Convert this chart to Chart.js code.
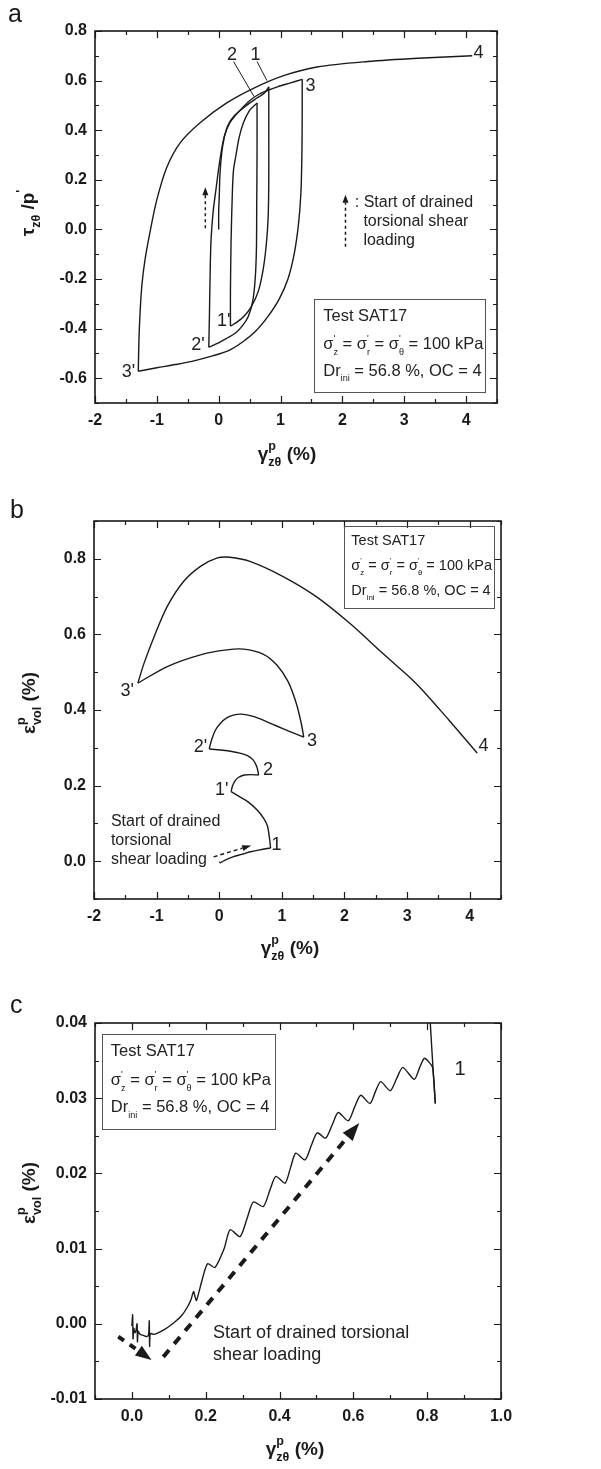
<!DOCTYPE html>
<html><head><meta charset="utf-8">
<script src="https://cdn.jsdelivr.net/npm/chart.js@4/dist/chart.umd.min.js"></script>
<style>
html,body{margin:0;padding:0;background:#fff;}
body{width:601px;height:1469px;position:relative;overflow:hidden;}
canvas{position:absolute;left:0;}
</style></head>
<body>
<canvas id="ca" width="601" height="490" style="top:0px"></canvas>
<canvas id="cb" width="601" height="490" style="top:490px"></canvas>
<canvas id="cc" width="601" height="489" style="top:980px"></canvas>
<script>
// ---------------- DATA ----------------
// Panel a: tau/p' vs gamma (%), branches
const A_LOAD0_X = [0.00,0.00,0.01,0.02,0.05,0.09,0.15,0.26,0.45,0.62,0.74,0.81];
const A_LOAD0_Y = [0.00,0.07,0.14,0.22,0.31,0.37,0.42,0.46,0.50,0.53,0.55,0.575];
const A_UNL1_X = [0.81,0.81,0.81,0.80,0.77,0.72,0.64,0.53,0.41,0.29,0.19];
const A_UNL1_Y = [0.575,0.40,0.20,0.05,-0.06,-0.16,-0.25,-0.31,-0.35,-0.375,-0.39];
const A_REL1_X = [0.19,0.19,0.20,0.22,0.24,0.28,0.33,0.40,0.50,0.62];
const A_REL1_Y = [-0.39,-0.25,-0.05,0.14,0.24,0.30,0.37,0.43,0.48,0.51];
const A_UNL2_X = [0.62,0.62,0.615,0.61,0.59,0.55,0.48,0.38,0.26,0.12,-0.02,-0.16];
const A_UNL2_Y = [0.51,0.30,0.10,-0.08,-0.20,-0.29,-0.35,-0.39,-0.42,-0.44,-0.46,-0.475];
const A_REL2_X = [-0.16,-0.15,-0.14,-0.125,-0.09,-0.05,0.02,0.09,0.18,0.26,0.40,0.50,0.65,0.79,0.95,1.15,1.35];
const A_REL2_Y = [-0.475,-0.35,-0.20,-0.05,0.07,0.15,0.28,0.375,0.43,0.457,0.495,0.519,0.545,0.56,0.575,0.59,0.605];
const A_UNL3_X = [1.35,1.35,1.345,1.33,1.29,1.22,1.12,0.98,0.80,0.60,0.38,0.15,-0.10,-0.40,-0.70,-1.00,-1.30];
const A_UNL3_Y = [0.605,0.45,0.30,0.15,0.02,-0.10,-0.20,-0.28,-0.35,-0.41,-0.455,-0.49,-0.51,-0.53,-0.545,-0.558,-0.572];
const A_REL3_X = [-1.30,-1.29,-1.27,-1.24,-1.19,-1.11,-1.00,-0.84,-0.62,-0.30,0.13,0.57,1.05,1.59,2.41,3.22,4.10];
const A_REL3_Y = [-0.572,-0.45,-0.33,-0.22,-0.12,-0.01,0.12,0.25,0.35,0.43,0.51,0.57,0.62,0.655,0.677,0.69,0.70];
const A_TICKS_X = [-2,-1,0,1,2,3,4];
const A_LABELS_X = ['-2','-1','0','1','2','3','4'];
const A_TICKS_Y = [-0.6,-0.4,-0.2,0.0,0.2,0.4,0.6,0.8];
const A_LABELS_Y = ['-0.6','-0.4','-0.2','0.0','0.2','0.4','0.6','0.8'];

// Panel b: eps_vol vs gamma (%), branches
const B_LOAD0_X = [0.00,0.02,0.05,0.12,0.23,0.36,0.50,0.65,0.82];
const B_LOAD0_Y = [-0.002,-0.004,-0.001,0.005,0.012,0.018,0.025,0.030,0.035];
const B_UNL1_X = [0.82,0.80,0.77,0.71,0.61,0.46,0.31,0.19];
const B_UNL1_Y = [0.035,0.064,0.093,0.113,0.135,0.157,0.172,0.184];
const B_REL1_X = [0.19,0.21,0.25,0.31,0.40,0.50,0.63];
const B_REL1_Y = [0.184,0.198,0.212,0.222,0.228,0.229,0.228];
const B_UNL2_X = [0.63,0.60,0.54,0.45,0.33,0.18,0.02,-0.16];
const B_UNL2_Y = [0.228,0.250,0.268,0.279,0.286,0.291,0.294,0.297];
const B_REL2_X = [-0.16,-0.12,-0.06,0.02,0.12,0.24,0.36,0.54,0.72,0.90,1.13,1.35];
const B_REL2_Y = [0.297,0.322,0.347,0.365,0.379,0.387,0.389,0.383,0.372,0.359,0.343,0.328];
const B_UNL3_X = [1.35,1.31,1.23,1.10,0.92,0.70,0.39,0.12,-0.30,-0.83,-1.30];
const B_UNL3_Y = [0.328,0.365,0.418,0.475,0.519,0.548,0.561,0.559,0.546,0.515,0.471];
const B_REL3_X = [-1.30,-1.20,-1.04,-0.83,-0.57,-0.30,-0.04,0.17,0.49,1.02,1.55,2.08,2.61,3.14,3.67,4.12];
const B_REL3_Y = [0.471,0.524,0.594,0.674,0.740,0.780,0.802,0.804,0.793,0.753,0.700,0.630,0.550,0.471,0.373,0.286];
const B_TICKS_X = [-2,-1,0,1,2,3,4];
const B_LABELS_X = ['-2','-1','0','1','2','3','4'];
const B_TICKS_Y = [0.0,0.2,0.4,0.6,0.8];
const B_LABELS_Y = ['0.0','0.2','0.4','0.6','0.8'];

// Panel c: zoom on start of loading up to point 1
const C_LOAD_X = [0.000,0.002,0.003,0.005,0.008,0.011,0.014,0.015,0.017,0.022,0.028,0.034,0.040,0.045,0.047,0.048,0.050,0.060,0.075,0.090,0.105,0.120,0.135,0.150,0.160,0.167,0.171,0.175,
  0.190,0.205,0.225,0.250,0.266,0.293,0.312,0.329,0.356,0.374,0.390,0.415,0.430,0.444,0.469,0.486,0.502,0.525,0.543,0.559,0.586,0.604,0.620,0.645,0.660,0.674,0.700,0.718,0.734,0.765,0.779,0.792,0.805,0.815,0.822];
const C_LOAD_Y = [-0.0003,0.0012,-0.0020,-0.0006,-0.0012,-0.0009,0.0000,-0.0024,-0.0010,-0.0014,-0.0015,-0.0016,-0.0017,-0.0015,0.0004,-0.0030,-0.0013,-0.0014,-0.0011,-0.0007,-0.0002,0.0004,0.0011,0.0022,0.0032,0.0043,0.0036,0.0031,
  0.0058,0.0080,0.0075,0.0100,0.0125,0.0116,0.0140,0.0162,0.0156,0.0178,0.0196,0.0187,0.0208,0.0227,0.0218,0.0237,0.0254,0.0247,0.0265,0.0281,0.0270,0.0289,0.0304,0.0293,0.0309,0.0322,0.0310,0.0327,0.0341,0.0325,0.0340,0.0353,0.0348,0.0340,0.0293];
const C_UNL_X = [0.822,0.817,0.812,0.806];
const C_UNL_Y = [0.0293,0.0330,0.0370,0.0420];
const C_TICKS_X = [0.0,0.2,0.4,0.6,0.8,1.0];
const C_LABELS_X = ['0.0','0.2','0.4','0.6','0.8','1.0'];
const C_TICKS_Y = [-0.01,0.00,0.01,0.02,0.03,0.04];
const C_LABELS_Y = ['-0.01','0.00','0.01','0.02','0.03','0.04'];

// ---------------- RENDERING ----------------
const FONT = '"Liberation Sans", Arial, Helvetica, sans-serif';
const INK = '#1a1a1a';
function fnt(size,bold){return (bold?'bold ':'')+size+'px '+FONT;}
function measureRich(ctx,parts,size,bold,k){
  let w=0;
  for(const p of parts){
    if(p[1]==='sub'||p[1]==='sup'){ctx.font=fnt(size*k,bold);w+=ctx.measureText(p[0]).width;}
    else if(p[1]==='stack'){ctx.font=fnt(size*k,bold);w+=Math.max(ctx.measureText(p[0]).width,ctx.measureText(p[2]).width);}
    else {ctx.font=fnt(size,bold);w+=ctx.measureText(p[0]).width;}
  }
  return w;
}
function drawRich(ctx,parts,x,y,size,bold,align,k){
  k=k||0.6;
  const w=measureRich(ctx,parts,size,bold,k);
  let cx=align==='center'?x-w/2:(align==='right'?x-w:x);
  const base=y+size*0.36;
  ctx.textAlign='left';ctx.textBaseline='alphabetic';
  for(const p of parts){
    if(p[1]==='sub'){ctx.font=fnt(size*k,bold);ctx.fillText(p[0],cx,base+size*0.32);cx+=ctx.measureText(p[0]).width;}
    else if(p[1]==='sup'){ctx.font=fnt(size*k,bold);ctx.fillText(p[0],cx,base-size*0.45);cx+=ctx.measureText(p[0]).width;}
    else if(p[1]==='stack'){ctx.font=fnt(size*k,bold);ctx.fillText(p[0],cx,base-size*0.5);ctx.fillText(p[2],cx,base+size*0.32);
      cx+=Math.max(ctx.measureText(p[0]).width,ctx.measureText(p[2]).width);}
    else {ctx.font=fnt(size,bold);ctx.fillText(p[0],cx,base);cx+=ctx.measureText(p[0]).width;}
  }
}
function arrow(ctx,x1,y1,x2,y2,lw,dash,hl,hw){
  const dx=x2-x1,dy=y2-y1,L=Math.hypot(dx,dy),ux=dx/L,uy=dy/L;
  const bx=x2-ux*hl,by=y2-uy*hl;
  ctx.save();ctx.lineWidth=lw;ctx.setLineDash(dash);ctx.beginPath();ctx.moveTo(x1,y1);ctx.lineTo(bx,by);ctx.stroke();ctx.restore();
  ctx.beginPath();ctx.moveTo(x2,y2);ctx.lineTo(bx-uy*hw/2,by+ux*hw/2);ctx.lineTo(bx+uy*hw/2,by-ux*hw/2);ctx.closePath();ctx.fill();
}
const deco={id:'deco',afterDraw(chart){
  const o=chart.options.plugins.deco;const ctx=chart.ctx;const ca=chart.chartArea;
  const sx=chart.scales.x,sy=chart.scales.y;const px=v=>sx.getPixelForValue(v),py=v=>sy.getPixelForValue(v);
  ctx.save();ctx.strokeStyle=INK;ctx.fillStyle=INK;
  ctx.lineWidth=1.2;ctx.beginPath();
  const tk=(vals,len,isX)=>{for(const v of vals){
    if(isX){const p=Math.round(px(v))+0.5;ctx.moveTo(p,ca.bottom);ctx.lineTo(p,ca.bottom-len);ctx.moveTo(p,ca.top);ctx.lineTo(p,ca.top+len);}
    else{const p=Math.round(py(v))+0.5;ctx.moveTo(ca.left,p);ctx.lineTo(ca.left+len,p);ctx.moveTo(ca.right,p);ctx.lineTo(ca.right-len,p);}
  }};
  const minor=(min,max,step)=>{const r=[];const n=Math.round((max-min)/step);for(let i=0;i<=n;i++)r.push(min+i*step);return r;};
  tk(minor(o.minorX[0],o.minorX[1],o.minorX[2]),4,true);
  tk(minor(o.minorY[0],o.minorY[1],o.minorY[2]),4,false);
  tk(o.majorX,7,true);tk(o.majorY,7,false);
  ctx.stroke();
  ctx.lineWidth=1.6;ctx.strokeRect(ca.left,ca.top,ca.right-ca.left,ca.bottom-ca.top);
  if(o.box){const b=o.box;ctx.lineWidth=1;ctx.strokeStyle='#555';
    ctx.strokeRect(Math.round(px(b.x1))+0.5,Math.round(py(b.y1))+0.5,Math.round(px(b.x2)-px(b.x1)),Math.round(py(b.y2)-py(b.y1)));
    ctx.strokeStyle=INK;ctx.fillStyle='#222';
    b.lines.forEach((ln,i)=>drawRich(ctx,ln,px(b.tx),py(b.ty[i]),b.size,false,'left',0.55));
    ctx.fillStyle=INK;}
  ctx.lineWidth=1;for(const l of (o.leaders||[])){ctx.beginPath();ctx.moveTo(px(l[0]),py(l[1]));ctx.lineTo(px(l[2]),py(l[3]));ctx.stroke();}
  for(const a of (o.arrows||[])){arrow(ctx,px(a.x1),py(a.y1),px(a.x2),py(a.y2),a.lw,a.dash,a.hl,a.hw);}
  ctx.fillStyle='#222';
  for(const t of (o.texts||[])){drawRich(ctx,[[t.t]],px(t.x),py(t.y),t.size,false,t.align||'center');}
  ctx.fillStyle=INK;
  drawRich(ctx,o.xTitle,o.xTitlePos[0],o.xTitlePos[1],19,true,'center',0.66);
  ctx.save();ctx.translate(o.yTitlePos[0],o.yTitlePos[1]);ctx.rotate(-Math.PI/2);drawRich(ctx,o.yTitle,0,0,19,true,'center',0.66);ctx.restore();
  ctx.font=fnt(25,false);ctx.textAlign='left';ctx.textBaseline='alphabetic';ctx.fillText(o.letter,o.letterPos[0],o.letterPos[1]);
  ctx.restore();
}};
function axis(min,max,ticks,labels,pad,fitProp,fitVal){
  return {type:'linear',min,max,
    afterBuildTicks:s=>{s.ticks=ticks.map(v=>({value:v}));},
    afterFit:s=>{s[fitProp]=fitVal;},
    grid:{display:false,drawTicks:false},border:{display:false},
    ticks:{color:INK,font:{family:FONT,size:16,weight:'bold'},padding:pad,autoSkip:false,maxRotation:0,
      callback:v=>{const i=ticks.findIndex(t=>Math.abs(t-v)<1e-9);return i>=0?labels[i]:'';}}};
}
function ds(xs,ys,t){return {data:xs.map((x,i)=>({x,y:ys[i]})),showLine:true,pointRadius:0,borderColor:INK,borderWidth:1.4,tension:t,fill:false};}
function make(id,H,area,datasets,xs,ys,deco_){
  const [L,T,R,B]=area;
  new Chart(document.getElementById(id),{type:'scatter',data:{datasets},
    options:{responsive:false,animation:false,events:[],
      layout:{padding:{left:0,top:T,right:601-R,bottom:H-B-44}},
      scales:{x:axis(xs[0],xs[1],xs[2],xs[3],8,'height',44),y:axis(ys[0],ys[1],ys[2],ys[3],8,'width',L)},
      plugins:{legend:{display:false},tooltip:{enabled:false},deco:deco_}},
    plugins:[deco]});
}
const SIG=[['σ'],["'",'stack','z'],[' = σ'],["'",'stack','r'],[' = σ'],["'",'stack','θ'],[' = 100 kPa']];
const DR=[['Dr'],['ini','sub'],[' = 56.8 %, OC = 4']];
const GAM=[['γ'],['p','stack','zθ'],[' (%)']];
const EPS=[['ε'],['p','stack','vol'],[' (%)']];

make('ca',490,[95,31,497,403],[
  ds(A_LOAD0_X,A_LOAD0_Y,0.3),ds(A_UNL1_X,A_UNL1_Y,0.3),ds(A_REL1_X,A_REL1_Y,0.3),ds(A_UNL2_X,A_UNL2_Y,0.3),
  ds(A_REL2_X,A_REL2_Y,0.3),ds(A_UNL3_X,A_UNL3_Y,0.3),ds(A_REL3_X,A_REL3_Y,0.3)],
  [-2,4.5,A_TICKS_X,A_LABELS_X],[-0.7,0.8,A_TICKS_Y,A_LABELS_Y],
  {letter:'a',letterPos:[8,22],majorX:A_TICKS_X,majorY:A_TICKS_Y,minorX:[-2,4.5,0.5],minorY:[-0.7,0.8,0.1],
   xTitle:GAM,xTitlePos:[287,453],yTitle:[['τ'],['zθ','sub'],[' /p'],["'",'sup']],yTitlePos:[27,213],
   box:{x1:1.54,x2:4.31,y1:-0.279,y2:-0.652,tx:1.69,ty:[-0.346,-0.46,-0.568],size:16.5,lines:[[['Test SAT17']],SIG,DR]},
   leaders:[[0.24,0.677,0.57,0.536],[0.62,0.677,0.78,0.60]],
   arrows:[{x1:-0.216,y1:0.005,x2:-0.216,y2:0.17,lw:1.5,dash:[3,3],hl:8,hw:6},{x1:2.05,y1:-0.07,x2:2.05,y2:0.14,lw:1.5,dash:[3,3],hl:8,hw:6}],
   texts:[{t:'1',x:0.595,y:0.711,size:18},{t:'2',x:0.216,y:0.711,size:18},{t:'3',x:1.486,y:0.583,size:18},{t:'4',x:4.2,y:0.718,size:18},
     {t:"1'",x:0.08,y:-0.364,size:18},{t:"2'",x:-0.335,y:-0.46,size:18},{t:"3'",x:-1.46,y:-0.571,size:18},
     {t:': Start of drained',x:2.2,y:0.114,size:16,align:'left'},{t:'torsional shear',x:2.34,y:0.038,size:16,align:'left'},{t:'loading',x:2.34,y:-0.04,size:16,align:'left'}]});

make('cb',490,[94,31,501,409],[
  ds(B_LOAD0_X,B_LOAD0_Y,0.3),ds(B_UNL1_X,B_UNL1_Y,0.3),ds(B_REL1_X,B_REL1_Y,0.3),ds(B_UNL2_X,B_UNL2_Y,0.3),
  ds(B_REL2_X,B_REL2_Y,0.3),ds(B_UNL3_X,B_UNL3_Y,0.3),ds(B_REL3_X,B_REL3_Y,0.3)],
  [-2,4.5,B_TICKS_X,B_LABELS_X],[-0.1,0.9,B_TICKS_Y,B_LABELS_Y],
  {letter:'b',letterPos:[10,28],majorX:B_TICKS_X,majorY:B_TICKS_Y,minorX:[-2,4.5,0.5],minorY:[-0.1,0.9,0.1],
   xTitle:GAM,xTitlePos:[290,457],yTitle:EPS,yTitlePos:[28,213],
   box:{x1:1.99,x2:4.38,y1:0.886,y2:0.668,tx:2.11,ty:[0.85,0.784,0.718],size:14.5,lines:[[['Test SAT17']],SIG,DR]},
   arrows:[{x1:-0.09,y1:0.0115,x2:0.51,y2:0.0415,lw:1.5,dash:[4,3],hl:9,hw:6}],
   texts:[{t:'1',x:0.915,y:0.047,size:18},{t:"1'",x:0.04,y:0.192,size:18},{t:'2',x:0.78,y:0.245,size:18},{t:"2'",x:-0.30,y:0.307,size:18},
     {t:'3',x:1.48,y:0.322,size:18},{t:"3'",x:-1.47,y:0.453,size:18},{t:'4',x:4.22,y:0.309,size:18},
     {t:'Start of drained',x:-1.73,y:0.109,size:16,align:'left'},{t:'torsional',x:-1.73,y:0.057,size:16,align:'left'},{t:'shear loading',x:-1.73,y:0.007,size:16,align:'left'}]});

make('cc',489,[95,43,501,419],[ds(C_LOAD_X,C_LOAD_Y,0.25),ds(C_UNL_X,C_UNL_Y,0)],
  [-0.1,1.0,C_TICKS_X,C_LABELS_X],[-0.01,0.04,C_TICKS_Y,C_LABELS_Y],
  {letter:'c',letterPos:[10,33],majorX:C_TICKS_X,majorY:C_TICKS_Y,minorX:[-0.1,1.0,0.1],minorY:[-0.01,0.04,0.005],
   xTitle:GAM,xTitlePos:[295,468],yTitle:EPS,yTitlePos:[28,213],
   box:{x1:-0.08,x2:0.388,y1:0.0385,y2:0.0259,tx:-0.057,ty:[0.0364,0.0325,0.0289],size:16.5,lines:[[['Test SAT17']],SIG,DR]},
   arrows:[{x1:-0.037,y1:-0.0017,x2:0.053,y2:-0.0048,lw:4,dash:[7,7],hl:16,hw:12},{x1:0.085,y1:-0.0044,x2:0.616,y2:0.0267,lw:4,dash:[9,8],hl:18,hw:13}],
   texts:[{t:'1',x:0.889,y:0.034,size:20},
     {t:'Start of drained torsional',x:0.22,y:-0.00106,size:18,align:'left'},{t:'shear loading',x:0.22,y:-0.0039,size:18,align:'left'}]});
</script>
</body></html>
